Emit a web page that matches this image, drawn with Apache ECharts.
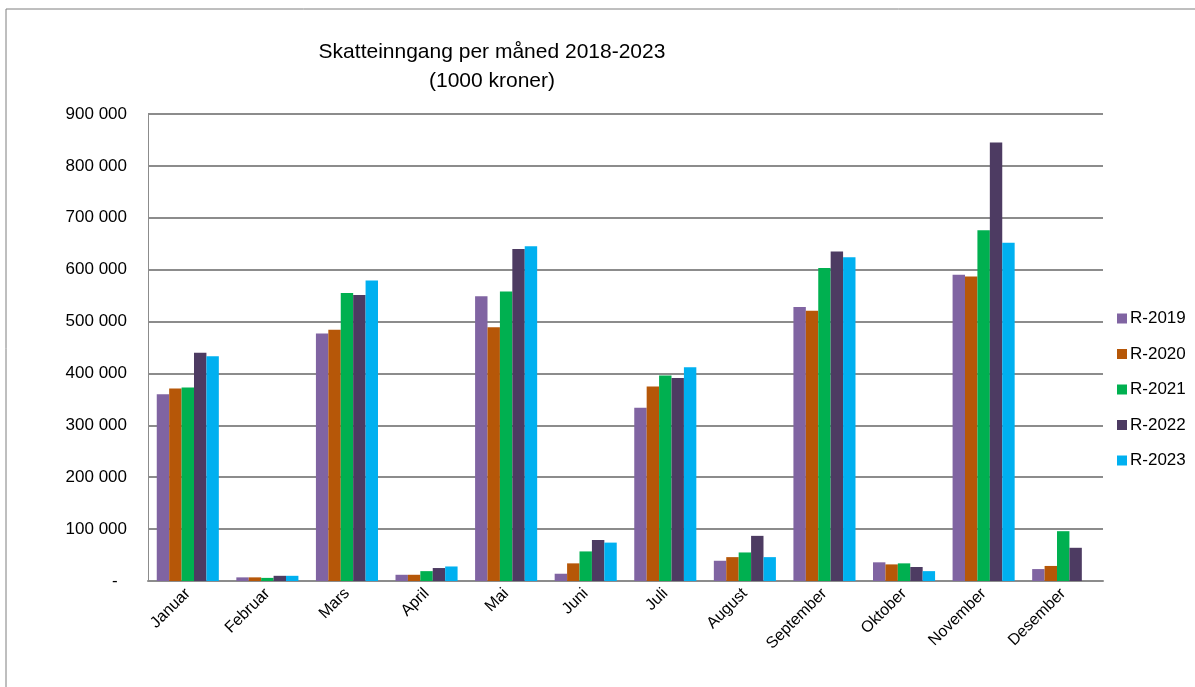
<!DOCTYPE html>
<html>
<head>
<meta charset="utf-8">
<script src="https://cdn.jsdelivr.net/npm/echarts@6/dist/echarts.min.js"></script>
<style>
html,body{margin:0;padding:0;background:#fff;}
#c{width:1195px;height:687px;}
</style>
</head>
<body>
<div id="c"></div>
<script>
var months = ['Januar','Februar','Mars','April','Mai','Juni','Juli','August','September','Oktober','November','Desember'];
var seriesNames = ['R-2019','R-2020','R-2021','R-2022','R-2023'];
var r2019 = [360000, 7000, 477000, 12000, 549000, 14000, 334000, 39000, 528000, 36000, 590000, 23000];
var r2020 = [371000, 7000, 484000, 12000, 489000, 34000, 375000, 46000, 521000, 32000, 587000, 29000];
var r2021 = [373000, 6000, 555000, 19000, 558000, 57000, 396000, 55000, 603000, 34000, 676000, 96000];
var r2022 = [440000, 10000, 551000, 25000, 640000, 79000, 391000, 87000, 635000, 27000, 845000, 64000];
var r2023 = [433000, 10000, 579000, 28000, 645000, 74000, 412000, 46000, 624000, 19000, 652000, null];
var colors = ['#8064A2','#B65708','#00B050','#4D3B62','#00B0F0'];
var yTicks = {min: 0, max: 900000, interval: 100000};

var font = 'Liberation Sans';
function fmt(v){
  if (v === 0) return '-  ';
  return String(v).replace(/\B(?=(\d{3})+(?!\d))/g, ' ');
}
var data = [r2019, r2020, r2021, r2022, r2023];
var series = seriesNames.map(function(n, i){
  return {
    name: n, type: 'bar', data: data[i],
    barGap: '0%', barCategoryGap: '22%',
    itemStyle: {color: colors[i]}
  };
});
var chart = echarts.init(document.getElementById('c'), null, {renderer: 'canvas'});
chart.setOption({
  animation: false,
  backgroundColor: '#fff',
  color: colors,
  title: {
    text: 'Skatteinngang per måned 2018-2023\n(1000 kroner)',
    left: 487, top: 33, textAlign: 'center',
    textStyle: {fontFamily: font, fontSize: 21, fontWeight: 'normal', color: '#000', lineHeight: 29}
  },
  legend: {
    orient: 'vertical', left: 1112, top: 305,
    itemWidth: 10, itemHeight: 10, itemGap: 18.5,
    icon: 'rect',
    textStyle: {fontFamily: font, fontSize: 17, color: '#000', padding: [0,0,0,-2]},
    data: seriesNames
  },
  grid: {left: 148, right: 92, top: 114, bottom: 106, containLabel: false},
  xAxis: {
    type: 'category', data: months,
    axisLine: {lineStyle: {color: '#8c8c8c', width: 2}},
    axisTick: {show: false},
    axisLabel: {rotate: 45, interval: 0, margin: 10, fontFamily: font, fontSize: 16, color: '#000'}
  },
  yAxis: {
    type: 'value', min: yTicks.min, max: yTicks.max, interval: yTicks.interval,
    axisLine: {show: true, lineStyle: {color: '#8c8c8c', width: 1}},
    axisTick: {show: false},
    splitLine: {lineStyle: {color: '#8c8c8c', width: 2}},
    axisLabel: {margin: 21, fontFamily: font, fontSize: 17, color: '#000', formatter: fmt}
  },
  graphic: [{
    type: 'rect', shape: {x: 6, y: 9, width: 1200, height: 700},
    style: {fill: 'none', stroke: '#7f7f7f', lineWidth: 1}, silent: true, z: -1
  }],
  series: series
});
</script>
</body>
</html>
